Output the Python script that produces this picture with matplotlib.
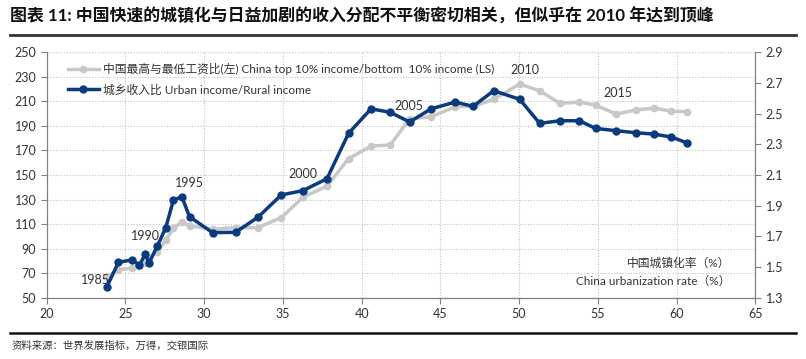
import matplotlib
matplotlib.use("Agg")
import matplotlib.pyplot as plt
from matplotlib.lines import Line2D

plt.rcParams['font.family'] = ['Lato', 'Noto Sans CJK SC', 'DejaVu Sans']

# urbanization rate (%), 1985-2019
urban_rate = [23.8, 24.55, 25.4, 25.89, 26.25, 26.5, 27.03, 27.56, 28.05, 28.58,
              29.07, 30.53, 31.99, 33.41, 34.9, 36.27, 37.8, 39.17, 40.6, 41.82,
              43.05, 44.41, 45.96, 47.08, 48.39, 50.04, 51.31, 52.6, 53.83, 54.86,
              56.17, 57.4, 58.56, 59.67, 60.69]

# top 10% / bottom 10% income (left axis)
top_bottom = [66.5, 72.6, 74.2, 76.0, 78.5, 82.0, 87.3, 97.0, 106.5, 111.7,
              108.5, 105.7, 107.1, 107.1, 115.3, 131.8, 141.0, 163.3, 173.6, 174.5,
              195.9, 197.5, 205.7, 206.0, 211.7, 224.2, 218.7, 208.4, 209.5, 207.0,
              199.7, 203.0, 204.6, 202.1, 201.6]

# urban income / rural income (right axis)
urban_rural = [1.366, 1.530, 1.546, 1.513, 1.582, 1.528, 1.637, 1.757, 1.937, 1.958,
               1.828, 1.724, 1.726, 1.824, 1.970, 1.998, 2.076, 2.372, 2.532, 2.509,
               2.446, 2.532, 2.576, 2.548, 2.650, 2.594, 2.437, 2.454, 2.454, 2.404,
               2.389, 2.376, 2.367, 2.348, 2.309]

year_labels = ['1985', '1990', '1995', '2000', '2005', '2010', '2015']
year_label_x = [23.1, 26.3, 29.05, 36.3, 43.0, 50.35, 56.3]
year_label_y = [64.4, 100, 143.5, 151, 206, 236, 216.7]

gray = '#c8c8c8'
navy = '#0b3a7e'
axis_col = '#808080'

fig = plt.figure(figsize=(8.06, 3.59), dpi=100)
ax = fig.add_axes([0.058, 0.171, 0.879, 0.683])
ax2 = ax.twinx()

l1, = ax.plot(urban_rate, top_bottom, color=gray, lw=2.5, marker='o', ms=4.5,
              label='中国最高与最低工资比(左) China top 10% income/bottom  10% income (LS)')
l2, = ax2.plot(urban_rate, urban_rural, color=navy, lw=2.5, marker='o', ms=5,
               label='城乡收入比 Urban income/Rural income')

ax.set_xlim(20, 65)
ax.set_ylim(50, 250)
ax2.set_ylim(1.3, 2.9)
ax.set_xticks(range(20, 66, 5))
ax.set_yticks(range(50, 251, 20))
ax2.set_yticks([1.3, 1.5, 1.7, 1.9, 2.1, 2.3, 2.5, 2.7, 2.9])
ax2.set_yticklabels(['1.3', '1.5', '1.7', '1.9', '2.1', '2.3', '2.5', '2.7', '2.9'])

ax.grid(True, color='#c0c0c0', ls=(0, (1, 1.5)), lw=0.8)
for a in (ax, ax2):
    a.spines['top'].set_visible(False)
    for s in ('left', 'right', 'bottom'):
        a.spines[s].set_color(axis_col)
    a.tick_params(colors=axis_col, labelcolor='#333333', labelsize=9, length=4, width=0.8)

for t, x, y in zip(year_labels, year_label_x, year_label_y):
    ax.text(x, y, t, ha='center', va='center', fontsize=9, color='#333333')

ax.text(0.965, 0.14, '中国城镇化率（%）', transform=ax.transAxes, ha='right', va='center',
        fontsize=8.5, color='#333333')
ax.text(0.965, 0.068, 'China urbanization rate（%）', transform=ax.transAxes, ha='right',
        va='center', fontsize=8.5, color='#333333')

ax2.legend(handles=[l1, l2], loc='upper left', bbox_to_anchor=(0.015, 1.0), frameon=False,
           fontsize=8.5, handlelength=2.6, labelspacing=0.75, handletextpad=0.4,
           labelcolor='#333333')

fig.text(0.012, 0.955, '图表 11: 中国快速的城镇化与日益加剧的收入分配不平衡密切相关，但似乎在 2010 年达到顶峰',
         ha='left', va='center', fontsize=12.2, fontweight='bold', color='#111111')
fig.add_artist(Line2D([0.012, 0.988], [0.902, 0.902], transform=fig.transFigure,
                      color='#333333', lw=2))
fig.add_artist(Line2D([0.012, 0.988], [0.072, 0.072], transform=fig.transFigure,
                      color='#111111', lw=1.8))
fig.text(0.014, 0.038, '资料来源：世界发展指标，万得，交银国际', ha='left', va='center',
         fontsize=7.5, style='italic', color='#333333')

fig.savefig('out.png', dpi=100)
